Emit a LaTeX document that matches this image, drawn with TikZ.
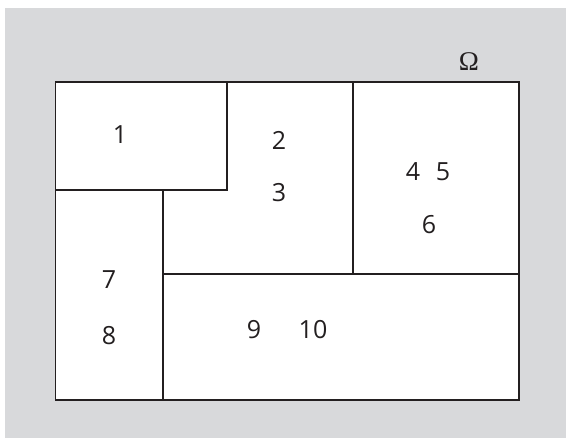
\documentclass[tikz,border=0pt]{standalone}
\usepackage{fontspec}
\setmainfont{Open Sans}
\newfontfamily\omegafont{Liberation Serif}
\usepackage{tikz}
\usetikzlibrary{positioning}
\definecolor{panel}{HTML}{D8D9DB}
\definecolor{ink}{HTML}{231F20}
\tikzset{
  region/.style={draw=ink,line width=1.4pt},
  cut/.style={draw=ink,line width=1.2pt},
  num/.style={font=\fontsize{25}{29}\selectfont,text=ink,inner sep=0pt},
}

\begin{document}
\begin{tikzpicture}[x=1pt,y=-1pt]
  \useasboundingbox (0,0) rectangle (566,438);
  \fill[panel] (5,8) rectangle (566,438);

  % the domain and its parts
  \filldraw[region,fill=white] (55.5,82) rectangle (519,400);
  \draw[cut] (55.5,190) -- (227,190) -- (227,82);
  \draw[cut] (163,190) -- (163,400);
  \draw[cut] (353,82) -- (353,274);
  \draw[cut] (163,274) -- (519,274);

  \node[font=\omegafont\fontsize{27}{30}\selectfont,text=ink,inner sep=0pt] (omega) at (469,62) {Ω};

  \node[num] (n1) at (120,135) {1};
  \node[num] (n2) at (279,140) {2};
  \node[num] (n3) at (279,193) {3};
  \node[num] (n4) at (413,172) {4};
  \node[num] (n5) at (443,172) {5};
  \node[num] (n6) at (429,225) {6};
  \node[num] (n7) at (109,280) {7};
  \node[num] (n8) at (109,336) {8};
  \node[num] (n9) at (254,330) {9};
  \node[num] (n10) at (313,330) {10};
\end{tikzpicture}
\end{document}
